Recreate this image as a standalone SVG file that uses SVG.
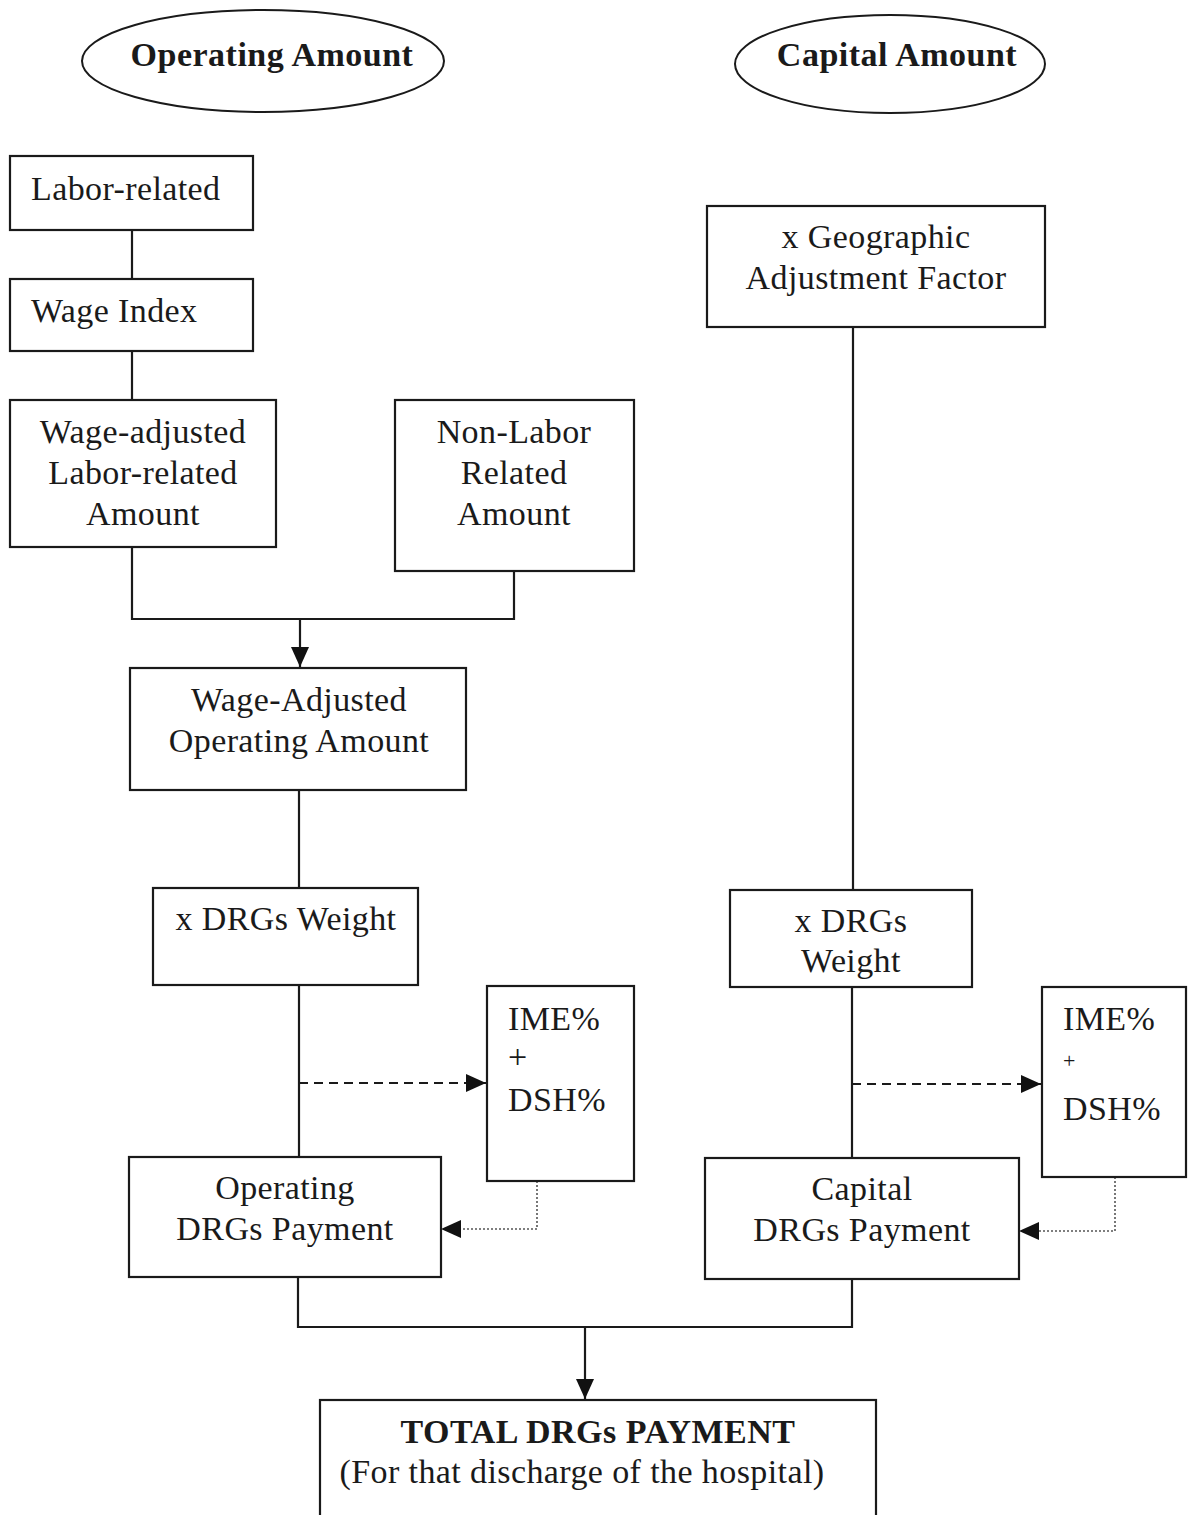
<svg xmlns="http://www.w3.org/2000/svg" width="1193" height="1515" viewBox="0 0 1193 1515">
<style>
.box{fill:#fff;stroke:#1a1a1a;stroke-width:2.2}
.ell{fill:#fff;stroke:#1a1a1a;stroke-width:2}
.t{font-family:"Liberation Serif","Times New Roman",serif;font-size:34px;letter-spacing:0.4px;fill:#1a1a1a}
.c{text-anchor:middle}
.b{font-weight:bold;letter-spacing:0.5px}
.ln{fill:none;stroke:#1a1a1a;stroke-width:2.2}
.dash{fill:none;stroke:#1a1a1a;stroke-width:2.2;stroke-dasharray:9,6}
.dot{fill:none;stroke:#555;stroke-width:1.6;stroke-dasharray:2,2}
</style>
<defs>
<marker id="ah" markerUnits="userSpaceOnUse" markerWidth="20" markerHeight="18" refX="20" refY="9" orient="auto">
<path d="M0,0 L20,9 L0,18 Z" fill="#111"/>
</marker>
</defs>
<rect width="1193" height="1515" fill="#fff"/>
<g id="connectors">
<line class="ln" x1="132" y1="230" x2="132" y2="279"/>
<line class="ln" x1="132" y1="351" x2="132" y2="400"/>
<polyline class="ln" points="132,547 132,619 514,619 514,571"/>
<line class="ln" x1="300" y1="619" x2="300" y2="667" marker-end="url(#ah)"/>
<line class="ln" x1="299" y1="790" x2="299" y2="888"/>
<line class="ln" x1="299" y1="985" x2="299" y2="1157"/>
<line class="dash" x1="299" y1="1083" x2="486" y2="1083" marker-end="url(#ah)"/>
<polyline class="dot" points="537,1181 537,1229 443,1229"/>
<path d="M441,1229 L461,1220 L461,1238 Z" fill="#111"/>
<line class="ln" x1="853" y1="327" x2="853" y2="890"/>
<line class="ln" x1="852" y1="987" x2="852" y2="1158"/>
<line class="dash" x1="852" y1="1084" x2="1041" y2="1084" marker-end="url(#ah)"/>
<polyline class="dot" points="1115,1177 1115,1231 1021,1231"/>
<path d="M1019,1231 L1039,1222 L1039,1240 Z" fill="#111"/>
<polyline class="ln" points="298,1277 298,1327 852,1327 852,1279"/>
<line class="ln" x1="585" y1="1327" x2="585" y2="1399" marker-end="url(#ah)"/>
</g>
<g id="operating-amount">
<ellipse class="ell" cx="263" cy="61" rx="181" ry="51"/>
<text class="t c b" x="272" y="66">Operating Amount</text>
</g>
<g id="capital-amount">
<ellipse class="ell" cx="890" cy="64" rx="155" ry="49"/>
<text class="t c b" x="897" y="66">Capital Amount</text>
</g>
<g id="labor-related">
<rect class="box" x="10" y="156" width="243" height="74"/>
<text class="t" x="31" y="200">Labor-related</text>
</g>
<g id="wage-index">
<rect class="box" x="10" y="279" width="243" height="72"/>
<text class="t" x="31" y="322">Wage Index</text>
</g>
<g id="wage-adjusted-labor">
<rect class="box" x="10" y="400" width="266" height="147"/>
<text class="t c" x="143" y="443">Wage-adjusted</text>
<text class="t c" x="143" y="484">Labor-related</text>
<text class="t c" x="143" y="525">Amount</text>
</g>
<g id="non-labor">
<rect class="box" x="395" y="400" width="239" height="171"/>
<text class="t c" x="514" y="443">Non-Labor</text>
<text class="t c" x="514" y="484">Related</text>
<text class="t c" x="514" y="525">Amount</text>
</g>
<g id="wage-adjusted-operating">
<rect class="box" x="130" y="668" width="336" height="122"/>
<text class="t c" x="299" y="711">Wage-Adjusted</text>
<text class="t c" x="299" y="752">Operating Amount</text>
</g>
<g id="drg-weight-op">
<rect class="box" x="153" y="888" width="265" height="97"/>
<text class="t c" x="286" y="930">x DRGs Weight</text>
</g>
<g id="ime-dsh-op">
<rect class="box" x="487" y="986" width="147" height="195"/>
<text class="t" x="508" y="1030">IME%</text>
<text class="t" x="508" y="1068">+</text>
<text class="t" x="508" y="1111">DSH%</text>
</g>
<g id="operating-payment">
<rect class="box" x="129" y="1157" width="312" height="120"/>
<text class="t c" x="285" y="1199">Operating</text>
<text class="t c" x="285" y="1240">DRGs Payment</text>
</g>
<g id="geographic">
<rect class="box" x="707" y="206" width="338" height="121"/>
<text class="t c" x="876" y="248">x Geographic</text>
<text class="t c" x="876" y="289">Adjustment Factor</text>
</g>
<g id="drg-weight-cap">
<rect class="box" x="730" y="890" width="242" height="97"/>
<text class="t c" x="851" y="932">x DRGs</text>
<text class="t c" x="851" y="972">Weight</text>
</g>
<g id="ime-dsh-cap">
<rect class="box" x="1042" y="987" width="144" height="190"/>
<text class="t" x="1063" y="1030">IME%</text>
<text class="t" x="1063" y="1068" style="font-size:22px">+</text>
<text class="t" x="1063" y="1120">DSH%</text>
</g>
<g id="capital-payment">
<rect class="box" x="705" y="1158" width="314" height="121"/>
<text class="t c" x="862" y="1200">Capital</text>
<text class="t c" x="862" y="1241">DRGs Payment</text>
</g>
<g id="total-payment">
<rect class="box" x="320" y="1400" width="556" height="130"/>
<text class="t c b" x="598" y="1443">TOTAL DRGs PAYMENT</text>
<text class="t c" x="582" y="1483">(For that discharge of the hospital)</text>
</g>
</svg>
